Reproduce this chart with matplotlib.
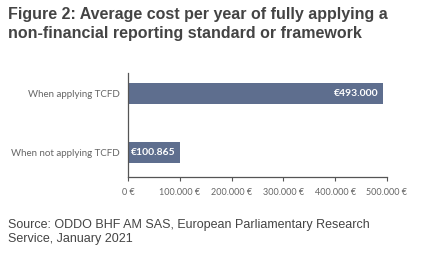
import matplotlib
matplotlib.use('Agg')
from matplotlib import pyplot as plt
from matplotlib.ticker import FuncFormatter

categories = ['When not applying TCFD', 'When applying TCFD']
costs = [100865, 493000]
bar_labels = ['€100.865', '€493.000']
x_ticks = [0, 100000, 200000, 300000, 400000, 500000]

title = 'Figure 2: Average cost per year of fully applying a\nnon-financial reporting standard or framework'
source = 'Source: ODDO BHF AM SAS, European Parliamentary Research\nService, January 2021'

bar_color = '#5e6e8e'
text_grey = '#444444'
tick_grey = '#666666'
small_font = ['Lato', 'DejaVu Sans']

plt.rcParams['font.family'] = ['Liberation Sans', 'DejaVu Sans']

fig = plt.figure(figsize=(4.42, 2.65), dpi=100)
fig.patch.set_facecolor('white')

ax = fig.add_axes([128 / 442, 1 - 177 / 265, (387 - 128) / 442, (177 - 73) / 265])
bars = ax.barh(range(len(categories)), costs, height=0.36, color=bar_color)

# value labels inside the bar ends
for i, (v, lab) in enumerate(zip(costs, bar_labels)):
    ax.text(v - 9000, i, lab, ha='right', va='center', color='white',
            fontsize=7.5, fontweight='bold', family=small_font)

ax.set_xlim(0, 500000)
ax.set_ylim(-0.42, 1.35)
ax.set_xticks(x_ticks)
ax.xaxis.set_major_formatter(FuncFormatter(lambda v, p: '0 €' if v == 0 else f'{int(v):,} €'.replace(',', '.')))
ax.set_yticks(range(len(categories)))
ax.set_yticklabels(categories)

for s in ['top', 'right']:
    ax.spines[s].set_visible(False)
ax.spines['left'].set_color('#555555')
ax.spines['bottom'].set_color('#555555')
ax.spines['left'].set_linewidth(0.9)
ax.spines['bottom'].set_linewidth(0.9)
ax.tick_params(axis='x', length=3, width=0.8, color='#555555', labelsize=6.5,
               labelcolor=tick_grey, pad=5)
ax.tick_params(axis='y', length=0, labelsize=7, labelcolor=tick_grey, pad=6)
for lab in ax.get_xticklabels() + ax.get_yticklabels():
    lab.set_family(small_font)

fig.text(8 / 442, 1 - 7 / 265, title, ha='left', va='top', fontsize=11.5,
         fontweight='bold', color=text_grey, linespacing=1.3)
fig.text(8 / 442, 1 - 219 / 265, source, ha='left', va='top', fontsize=9,
         color=text_grey, linespacing=1.2)

plt.savefig('out.png', dpi=100)
plt.close()
